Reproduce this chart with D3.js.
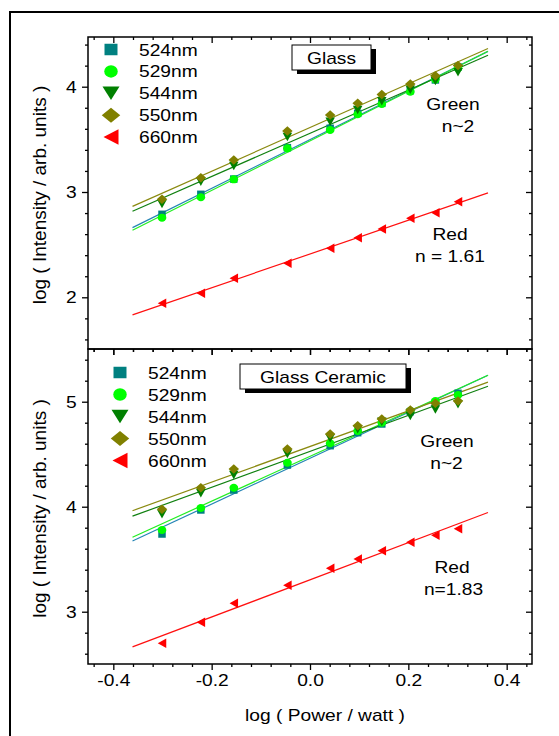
<!DOCTYPE html>
<html>
<head>
<meta charset="utf-8">
<script src="https://cdn.jsdelivr.net/npm/d3@7"></script>
<style>
  body { margin: 0; background: #fff; }
  text { font-family: "Liberation Sans", Arial, sans-serif; fill: #000; }
</style>
</head>
<body>
<svg id="chart" width="559" height="736"></svg>
<script>
// log(power) values, shared by both panels
var power = [-0.301, -0.222, -0.155, -0.046, 0.041, 0.097, 0.146, 0.204, 0.255, 0.301];

// Glass panel
var glass524 = [2.788, 2.978, 3.123, 3.421, 3.605, 3.747, 3.842, 3.962, 4.064, 4.187];
var glass529 = [2.756, 2.950, 3.120, 3.415, 3.589, 3.738, 3.836, 3.953, 4.070, 4.175];
var glass544 = [2.886, 3.098, 3.247, 3.522, 3.668, 3.779, 3.862, 3.972, 4.055, 4.138];
var glass550 = [2.931, 3.136, 3.304, 3.580, 3.731, 3.842, 3.925, 4.026, 4.104, 4.202];
var glass660 = [1.943, 2.038, 2.180, 2.323, 2.465, 2.566, 2.649, 2.750, 2.803, 2.908];

// Glass ceramic panel
var cer524 = [3.740, 3.969, 4.159, 4.397, 4.581, 4.705, 4.788, 4.905, 4.990, 5.080];
var cer529 = [3.778, 3.988, 4.181, 4.419, 4.604, 4.721, 4.800, 4.914, 5.007, 5.064];
var cer544 = [3.928, 4.128, 4.302, 4.502, 4.651, 4.737, 4.810, 4.864, 4.927, 4.975];
var cer550 = [3.975, 4.181, 4.359, 4.550, 4.692, 4.771, 4.835, 4.921, 4.985, 5.007];
var cer660 = [2.699, 2.899, 3.080, 3.251, 3.413, 3.502, 3.581, 3.661, 3.728, 3.790];

var seriesNames = ["524nm", "529nm", "544nm", "550nm", "660nm"];
var xTicks = [-0.4, -0.2, 0.0, 0.2, 0.4];
var xTickLabels = ["-0.4", "-0.2", "0.0", "0.2", "0.4"];
var glassYTicks = [2, 3, 4];
var cerYTicks = [3, 4, 5];
var fitRange = [-0.361, 0.362];

var symbolColor = ["#008080", "#00ff00", "#008000", "#808000", "#ff0000"];
var lineColor = ["#2585b5", "#22ee22", "#108010", "#8a8a10", "#ff1010"];
var symbolType = ["square", "circle", "triDown", "diamond", "triLeft"];
// [w, h] of marks on the plot and in the legend
var markSize = [[7.5, 7.5], [8.7, 8], [9.5, 8.5], [10.5, 9.5], [8.5, 9.5]];
var legendSize = [[13, 11.5], [13.5, 12.5], [17, 13.5], [18.5, 15], [15, 15.5]];

var svg = d3.select("#chart");
var SX = 1.2; // text in the picture is drawn a bit wide

var x = d3.scaleLinear().domain([-0.4515, 0.4515]).range([88, 532]);

function markPath(t, w, h) {
  var a = w / 2, b = h / 2;
  if (t == "square") return "M" + (-a) + "," + (-b) + "H" + a + "V" + b + "H" + (-a) + "Z";
  if (t == "circle") return "M" + (-a) + ",0A" + a + "," + b + " 0 1,0 " + a + ",0A" + a + "," + b + " 0 1,0 " + (-a) + ",0Z";
  if (t == "triDown") return "M" + (-a) + "," + (-b) + "L" + a + "," + (-b) + "L0," + b + "Z";
  if (t == "diamond") return "M0," + (-b) + "L" + a + ",0L0," + b + "L" + (-a) + ",0Z";
  return "M" + (-a) + ",0L" + a + "," + (-b) + "L" + a + "," + b + "Z";
}

function fit(xs, ys) {
  var mx = d3.mean(xs), my = d3.mean(ys), sxy = 0, sxx = 0;
  xs.forEach(function(v, i) { sxy += (v - mx) * (ys[i] - my); sxx += (v - mx) * (v - mx); });
  var k = sxy / sxx;
  return function(v) { return my + k * (v - mx); };
}

function label(txt, px, py, anchor) {
  svg.append("text")
    .attr("transform", "translate(" + px + "," + py + ") scale(" + SX + ",1)")
    .attr("text-anchor", anchor || "start")
    .style("font-size", "16px")
    .text(txt);
}

function minors(lo, hi, step, majors) {
  var n = Math.round((hi - lo) / step);
  return d3.range(n + 1).map(function(i) { return +(lo + i * step).toFixed(3); })
    .filter(function(v) { return majors.indexOf(v) < 0; });
}

var xMinor = minors(-0.44, 0.44, 0.04, xTicks);

function drawPanel(p) {
  var y = d3.scaleLinear().domain(p.domain).range([p.bottom, p.top]);
  var yMinor = minors(p.minorLo, p.minorHi, 0.2, p.yTicks);

  function axis(maker, scale, vals, size, yOff, xOff, fmt) {
    var a = maker(scale).tickValues(vals).tickSize(size).tickSizeOuter(0)
      .tickFormat(fmt || function() { return ""; });
    var g = svg.append("g")
      .attr("transform", "translate(" + (xOff || 0) + "," + (yOff || 0) + ")")
      .call(a);
    g.select(".domain").remove();
    g.selectAll("line").attr("stroke", "#000").attr("stroke-width", 1.3);
    return g;
  }

  // left: outward, right: inward
  var gl = axis(d3.axisLeft, y, p.yTicks, 6, 0, 88, d3.format("d"));
  axis(d3.axisLeft, y, yMinor, 3, 0, 88);
  axis(d3.axisRight, y, p.yTicks, -6, 0, 532);
  axis(d3.axisRight, y, yMinor, -3, 0, 532);
  // top: inward, bottom: outward
  axis(d3.axisTop, x, xTicks, -6, p.top);
  axis(d3.axisTop, x, xMinor, -3, p.top);
  var gb = axis(d3.axisBottom, x, xTicks, 6, p.bottom, 0,
    p.xLabels ? function(d, i) { return xTickLabels[i]; } : null);
  axis(d3.axisBottom, x, xMinor, 3, p.bottom);

  gl.selectAll("text")
    .attr("x", -9.5).attr("dy", "0.34em")
    .attr("transform", "scale(" + SX + ",1)")
    .style("font-size", "16px").style("font-family", "'Liberation Sans', Arial, sans-serif");
  if (p.xLabels) {
    gb.selectAll("text")
      .attr("y", 11)
      .attr("transform", "scale(" + SX + ",1)")
      .style("font-size", "16px").style("font-family", "'Liberation Sans', Arial, sans-serif");
  }

  // frame
  svg.append("rect")
    .attr("x", 88).attr("y", p.top)
    .attr("width", 532 - 88).attr("height", p.bottom - p.top)
    .attr("fill", "none").attr("stroke", "#000").attr("stroke-width", 1.5);

  // fit lines
  var line = d3.line().x(function(d) { return x(d[0]); }).y(function(d) { return y(d[1]); });
  p.series.forEach(function(ys, i) {
    var f = fit(power, ys);
    svg.append("path")
      .attr("d", line(fitRange.map(function(v) { return [v, f(v)]; })))
      .attr("fill", "none").attr("stroke", lineColor[i]).attr("stroke-width", 1.2);
  });

  // points
  p.series.forEach(function(ys, i) {
    svg.append("g").selectAll("path")
      .data(ys)
      .enter().append("path")
      .attr("transform", function(d, j) { return "translate(" + x(power[j]) + "," + y(d) + ")"; })
      .attr("d", markPath(symbolType[i], markSize[i][0], markSize[i][1]))
      .attr("fill", symbolColor[i]);
  });

  // legend
  seriesNames.forEach(function(name, i) {
    var cy = p.legendY + i * p.legendStep;
    svg.append("path")
      .attr("transform", "translate(" + p.legendX + "," + cy + ")")
      .attr("d", markPath(symbolType[i], legendSize[i][0], legendSize[i][1]))
      .attr("fill", symbolColor[i]);
    label(name, p.legendX + 28, cy + 6);
  });

  // title box with shadow
  var b = p.box;
  svg.append("rect").attr("x", b[0] + 5).attr("y", b[1] + 4)
    .attr("width", b[2]).attr("height", b[3]).attr("fill", "#000");
  svg.append("rect").attr("x", b[0]).attr("y", b[1])
    .attr("width", b[2]).attr("height", b[3])
    .attr("fill", "#fff").attr("stroke", "#000").attr("stroke-width", 1);
  label(p.title, b[0] + b[2] / 2, b[1] + 19, "middle");

  p.notes.forEach(function(n) { label(n[0], n[1], n[2], "middle"); });

  // y title
  svg.append("text")
    .attr("transform", "translate(46," + ((p.top + p.bottom) / 2 + 2) + ") rotate(-90)")
    .attr("text-anchor", "middle")
    .style("font-size", "19px")
    .text("log ( Intensity / arb. units )");
}

// outer frame
svg.append("rect")
  .attr("x", 10).attr("y", 12).attr("width", 620).attr("height", 800)
  .attr("fill", "none").attr("stroke", "#000").attr("stroke-width", 2);

drawPanel({
  top: 37, bottom: 349, domain: [1.509, 4.472], yTicks: glassYTicks,
  minorLo: 1.6, minorHi: 4.4, xLabels: false,
  series: [glass524, glass529, glass544, glass550, glass660],
  legendX: 111, legendY: 49.5, legendStep: 21.9,
  box: [292, 45, 79, 25], title: "Glass",
  notes: [["Green", 453, 110], ["n~2", 458, 131.5], ["Red", 450, 240], ["n = 1.61", 450, 262]]
});

drawPanel({
  top: 349, bottom: 664, domain: [2.502, 5.502], yTicks: cerYTicks,
  minorLo: 2.6, minorHi: 5.4, xLabels: true,
  series: [cer524, cer529, cer544, cer550, cer660],
  legendX: 120, legendY: 372.5, legendStep: 22,
  box: [240, 364, 166, 25], title: "Glass Ceramic",
  notes: [["Green", 447, 446.5], ["n~2", 446.5, 468.5], ["Red", 452, 572.5], ["n=1.83", 453.5, 595]]
});

// x title
svg.append("text")
  .attr("transform", "translate(325,721) scale(" + SX + ",1)")
  .attr("text-anchor", "middle")
  .style("font-size", "16px")
  .text("log ( Power / watt )");
</script>
</body>
</html>
